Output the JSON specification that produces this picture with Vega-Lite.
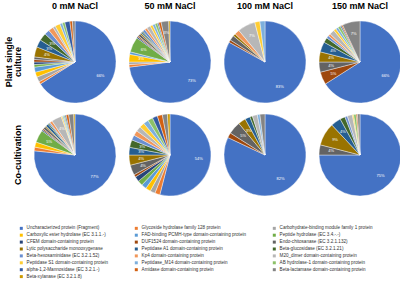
{
"$schema": "https://vega.github.io/schema/vega-lite/v6.json",
"background": "white",
"padding": {"left": 4, "top": 2, "right": 0, "bottom": 0},
"datasets": {
"proteins": [
{"n":1,"protein":"Uncharacterized protein (Fragment)"},
{"n":2,"protein":"Glycoside hydrolase family 128 protein"},
{"n":3,"protein":"Carbohydrate-binding module family 1 protein"},
{"n":4,"protein":"Carboxylic ester hydrolase (EC 3.1.1.-)"},
{"n":5,"protein":"FAD-binding PCMH-type domain-containing protein"},
{"n":6,"protein":"Peptide hydrolase (EC 3.4.-.-)"},
{"n":7,"protein":"CFEM domain-containing protein"},
{"n":8,"protein":"DUF1524 domain-containing protein"},
{"n":9,"protein":"Endo-chitosanase (EC 3.2.1.132)"},
{"n":10,"protein":"Lytic polysaccharide monooxygenase"},
{"n":11,"protein":"Peptidase A1 domain-containing protein"},
{"n":12,"protein":"Beta-glucosidase (EC 3.2.1.21)"},
{"n":13,"protein":"Beta-hexosaminidase (EC 3.2.1.52)"},
{"n":14,"protein":"Kp4 domain-containing protein"},
{"n":15,"protein":"M20_dimer domain-containing protein"},
{"n":16,"protein":"Peptidase S1 domain-containing protein"},
{"n":17,"protein":"Peptidase_M14 domain-containing protein"},
{"n":18,"protein":"AB hydrolase-1 domain-containing protein"},
{"n":19,"protein":"alpha-1,2-Mannosidase (EC 3.2.1.-)"},
{"n":20,"protein":"Amidase domain-containing protein"},
{"n":21,"protein":"Beta-lactamase domain-containing protein"},
{"n":22,"protein":"Beta-xylanase (EC 3.2.1.8)"}
]
},
"data": {"values": [
{"c":"Plant single culture","s":"0 mM NaCl","n":1,"v":66},
{"c":"Plant single culture","s":"0 mM NaCl","n":2,"v":1},
{"c":"Plant single culture","s":"0 mM NaCl","n":3,"v":2},
{"c":"Plant single culture","s":"0 mM NaCl","n":4,"v":2},
{"c":"Plant single culture","s":"0 mM NaCl","n":5,"v":2},
{"c":"Plant single culture","s":"0 mM NaCl","n":6,"v":1},
{"c":"Plant single culture","s":"0 mM NaCl","n":7,"v":1},
{"c":"Plant single culture","s":"0 mM NaCl","n":8,"v":1},
{"c":"Plant single culture","s":"0 mM NaCl","n":9,"v":1},
{"c":"Plant single culture","s":"0 mM NaCl","n":10,"v":4},
{"c":"Plant single culture","s":"0 mM NaCl","n":11,"v":3},
{"c":"Plant single culture","s":"0 mM NaCl","n":12,"v":3},
{"c":"Plant single culture","s":"0 mM NaCl","n":13,"v":2},
{"c":"Plant single culture","s":"0 mM NaCl","n":14,"v":2},
{"c":"Plant single culture","s":"0 mM NaCl","n":15,"v":1},
{"c":"Plant single culture","s":"0 mM NaCl","n":16,"v":2},
{"c":"Plant single culture","s":"0 mM NaCl","n":17,"v":1},
{"c":"Plant single culture","s":"0 mM NaCl","n":18,"v":1},
{"c":"Plant single culture","s":"0 mM NaCl","n":19,"v":2},
{"c":"Plant single culture","s":"0 mM NaCl","n":20,"v":1},
{"c":"Plant single culture","s":"0 mM NaCl","n":21,"v":1},
{"c":"Plant single culture","s":"50 mM NaCl","n":1,"v":73},
{"c":"Plant single culture","s":"50 mM NaCl","n":2,"v":1},
{"c":"Plant single culture","s":"50 mM NaCl","n":3,"v":1},
{"c":"Plant single culture","s":"50 mM NaCl","n":4,"v":3},
{"c":"Plant single culture","s":"50 mM NaCl","n":5,"v":1},
{"c":"Plant single culture","s":"50 mM NaCl","n":6,"v":6},
{"c":"Plant single culture","s":"50 mM NaCl","n":7,"v":0.5},
{"c":"Plant single culture","s":"50 mM NaCl","n":8,"v":0.5},
{"c":"Plant single culture","s":"50 mM NaCl","n":9,"v":1},
{"c":"Plant single culture","s":"50 mM NaCl","n":10,"v":0.5},
{"c":"Plant single culture","s":"50 mM NaCl","n":11,"v":0.5},
{"c":"Plant single culture","s":"50 mM NaCl","n":12,"v":0.5},
{"c":"Plant single culture","s":"50 mM NaCl","n":13,"v":1},
{"c":"Plant single culture","s":"50 mM NaCl","n":14,"v":1},
{"c":"Plant single culture","s":"50 mM NaCl","n":15,"v":1.5},
{"c":"Plant single culture","s":"50 mM NaCl","n":16,"v":1},
{"c":"Plant single culture","s":"50 mM NaCl","n":17,"v":1},
{"c":"Plant single culture","s":"50 mM NaCl","n":18,"v":1},
{"c":"Plant single culture","s":"50 mM NaCl","n":19,"v":0.5},
{"c":"Plant single culture","s":"50 mM NaCl","n":20,"v":1},
{"c":"Plant single culture","s":"50 mM NaCl","n":21,"v":3},
{"c":"Plant single culture","s":"50 mM NaCl","n":22,"v":0.5},
{"c":"Plant single culture","s":"100 mM NaCl","n":1,"v":83},
{"c":"Plant single culture","s":"100 mM NaCl","n":8,"v":1},
{"c":"Plant single culture","s":"100 mM NaCl","n":9,"v":2},
{"c":"Plant single culture","s":"100 mM NaCl","n":10,"v":1},
{"c":"Plant single culture","s":"100 mM NaCl","n":14,"v":2},
{"c":"Plant single culture","s":"100 mM NaCl","n":15,"v":7},
{"c":"Plant single culture","s":"100 mM NaCl","n":16,"v":2},
{"c":"Plant single culture","s":"100 mM NaCl","n":17,"v":2},
{"c":"Plant single culture","s":"150 mM NaCl","n":1,"v":66},
{"c":"Plant single culture","s":"150 mM NaCl","n":8,"v":5},
{"c":"Plant single culture","s":"150 mM NaCl","n":9,"v":4},
{"c":"Plant single culture","s":"150 mM NaCl","n":10,"v":4},
{"c":"Plant single culture","s":"150 mM NaCl","n":11,"v":4},
{"c":"Plant single culture","s":"150 mM NaCl","n":12,"v":2},
{"c":"Plant single culture","s":"150 mM NaCl","n":13,"v":1},
{"c":"Plant single culture","s":"150 mM NaCl","n":14,"v":1},
{"c":"Plant single culture","s":"150 mM NaCl","n":15,"v":2},
{"c":"Plant single culture","s":"150 mM NaCl","n":16,"v":1},
{"c":"Plant single culture","s":"150 mM NaCl","n":17,"v":1},
{"c":"Plant single culture","s":"150 mM NaCl","n":18,"v":1},
{"c":"Plant single culture","s":"150 mM NaCl","n":19,"v":0.5},
{"c":"Plant single culture","s":"150 mM NaCl","n":20,"v":0.5},
{"c":"Plant single culture","s":"150 mM NaCl","n":21,"v":7},
{"c":"Co-cultivation","s":"0 mM NaCl","n":1,"v":77},
{"c":"Co-cultivation","s":"0 mM NaCl","n":2,"v":1.5},
{"c":"Co-cultivation","s":"0 mM NaCl","n":4,"v":2},
{"c":"Co-cultivation","s":"0 mM NaCl","n":6,"v":5},
{"c":"Co-cultivation","s":"0 mM NaCl","n":7,"v":0.5},
{"c":"Co-cultivation","s":"0 mM NaCl","n":8,"v":0.5},
{"c":"Co-cultivation","s":"0 mM NaCl","n":9,"v":1},
{"c":"Co-cultivation","s":"0 mM NaCl","n":10,"v":0.5},
{"c":"Co-cultivation","s":"0 mM NaCl","n":11,"v":1},
{"c":"Co-cultivation","s":"0 mM NaCl","n":12,"v":0.5},
{"c":"Co-cultivation","s":"0 mM NaCl","n":13,"v":0.5},
{"c":"Co-cultivation","s":"0 mM NaCl","n":14,"v":1},
{"c":"Co-cultivation","s":"0 mM NaCl","n":15,"v":4},
{"c":"Co-cultivation","s":"0 mM NaCl","n":16,"v":0.5},
{"c":"Co-cultivation","s":"0 mM NaCl","n":17,"v":0.5},
{"c":"Co-cultivation","s":"0 mM NaCl","n":18,"v":0.5},
{"c":"Co-cultivation","s":"0 mM NaCl","n":19,"v":0.5},
{"c":"Co-cultivation","s":"0 mM NaCl","n":20,"v":1},
{"c":"Co-cultivation","s":"0 mM NaCl","n":21,"v":2},
{"c":"Co-cultivation","s":"0 mM NaCl","n":22,"v":0.5},
{"c":"Co-cultivation","s":"50 mM NaCl","n":1,"v":54},
{"c":"Co-cultivation","s":"50 mM NaCl","n":2,"v":2},
{"c":"Co-cultivation","s":"50 mM NaCl","n":3,"v":2},
{"c":"Co-cultivation","s":"50 mM NaCl","n":4,"v":2},
{"c":"Co-cultivation","s":"50 mM NaCl","n":5,"v":2},
{"c":"Co-cultivation","s":"50 mM NaCl","n":6,"v":2},
{"c":"Co-cultivation","s":"50 mM NaCl","n":7,"v":2},
{"c":"Co-cultivation","s":"50 mM NaCl","n":8,"v":1},
{"c":"Co-cultivation","s":"50 mM NaCl","n":9,"v":4},
{"c":"Co-cultivation","s":"50 mM NaCl","n":10,"v":4},
{"c":"Co-cultivation","s":"50 mM NaCl","n":11,"v":3},
{"c":"Co-cultivation","s":"50 mM NaCl","n":12,"v":3},
{"c":"Co-cultivation","s":"50 mM NaCl","n":13,"v":2},
{"c":"Co-cultivation","s":"50 mM NaCl","n":14,"v":2},
{"c":"Co-cultivation","s":"50 mM NaCl","n":15,"v":2},
{"c":"Co-cultivation","s":"50 mM NaCl","n":16,"v":2},
{"c":"Co-cultivation","s":"50 mM NaCl","n":17,"v":2},
{"c":"Co-cultivation","s":"50 mM NaCl","n":18,"v":2},
{"c":"Co-cultivation","s":"50 mM NaCl","n":19,"v":2},
{"c":"Co-cultivation","s":"50 mM NaCl","n":20,"v":2},
{"c":"Co-cultivation","s":"50 mM NaCl","n":21,"v":2},
{"c":"Co-cultivation","s":"50 mM NaCl","n":22,"v":1},
{"c":"Co-cultivation","s":"100 mM NaCl","n":1,"v":82},
{"c":"Co-cultivation","s":"100 mM NaCl","n":8,"v":2},
{"c":"Co-cultivation","s":"100 mM NaCl","n":9,"v":5},
{"c":"Co-cultivation","s":"100 mM NaCl","n":10,"v":3},
{"c":"Co-cultivation","s":"100 mM NaCl","n":11,"v":2},
{"c":"Co-cultivation","s":"100 mM NaCl","n":12,"v":1},
{"c":"Co-cultivation","s":"100 mM NaCl","n":15,"v":2},
{"c":"Co-cultivation","s":"100 mM NaCl","n":17,"v":1},
{"c":"Co-cultivation","s":"100 mM NaCl","n":21,"v":2},
{"c":"Co-cultivation","s":"150 mM NaCl","n":1,"v":75},
{"c":"Co-cultivation","s":"150 mM NaCl","n":9,"v":4},
{"c":"Co-cultivation","s":"150 mM NaCl","n":10,"v":9},
{"c":"Co-cultivation","s":"150 mM NaCl","n":11,"v":4},
{"c":"Co-cultivation","s":"150 mM NaCl","n":12,"v":2},
{"c":"Co-cultivation","s":"150 mM NaCl","n":13,"v":1},
{"c":"Co-cultivation","s":"150 mM NaCl","n":15,"v":2},
{"c":"Co-cultivation","s":"150 mM NaCl","n":16,"v":0.5},
{"c":"Co-cultivation","s":"150 mM NaCl","n":18,"v":1},
{"c":"Co-cultivation","s":"150 mM NaCl","n":20,"v":0.5},
{"c":"Co-cultivation","s":"150 mM NaCl","n":21,"v":1}
]},
"transform": [
{"lookup": "n", "from": {"data": {"name": "proteins"}, "key": "n", "fields": ["protein"]}}
],
"facet": {
"row": {"field": "c", "type": "nominal", "sort": ["Plant single culture", "Co-cultivation"],
"header": {"title": null, "labelAngle": -90, "labelOrient": "left", "labelFont": "Liberation Sans", "labelFontSize": 9, "labelFontWeight": "bold", "labelColor": "black", "labelPadding": 6, "labelLineHeight": 9,
"labelExpr": "datum.value == 'Plant single culture' ? ['Plant single', 'culture'] : datum.value"}},
"column": {"field": "s", "type": "nominal", "sort": ["0 mM NaCl", "50 mM NaCl", "100 mM NaCl", "150 mM NaCl"],
"header": {"title": null, "labelFont": "Liberation Sans", "labelFontSize": 9, "labelFontWeight": "bold", "labelColor": "black", "labelPadding": 9}}
},
"spacing": {"row": 9, "column": 11},
"spec": {
"width": 82, "height": 82,
"layer": [
{"mark": {"type": "arc", "stroke": "white", "strokeWidth": 0.4},
"encoding": {
"theta": {"field": "v", "type": "quantitative", "stack": true},
"order": {"field": "n", "type": "quantitative"},
"color": {"field": "protein", "type": "nominal",
"scale": {"domain": ["Uncharacterized protein (Fragment)","Glycoside hydrolase family 128 protein","Carbohydrate-binding module family 1 protein","Carboxylic ester hydrolase (EC 3.1.1.-)","FAD-binding PCMH-type domain-containing protein","Peptide hydrolase (EC 3.4.-.-)","CFEM domain-containing protein","DUF1524 domain-containing protein","Endo-chitosanase (EC 3.2.1.132)","Lytic polysaccharide monooxygenase","Peptidase A1 domain-containing protein","Beta-glucosidase (EC 3.2.1.21)","Beta-hexosaminidase (EC 3.2.1.52)","Kp4 domain-containing protein","M20_dimer domain-containing protein","Peptidase S1 domain-containing protein","Peptidase_M14 domain-containing protein","AB hydrolase-1 domain-containing protein","alpha-1,2-Mannosidase (EC 3.2.1.-)","Amidase domain-containing protein","Beta-lactamase domain-containing protein","Beta-xylanase (EC 3.2.1.8)"],
"range": ["#4472C4","#ED7D31","#A5A5A5","#FFC000","#5B9BD5","#70AD47","#264478","#9E480E","#636363","#997300","#255E91","#43682B","#698ED0","#F1975A","#B7B7B7","#FFCD33","#7CAFDD","#8CC168","#335AA1","#D26012","#848484","#CC9A00"]},
"legend": {"title": null, "orient": "none", "direction": "horizontal", "legendX": -15, "legendY": 205, "columns": 3, "columnPadding": 25, "rowPadding": 1.9, "symbolType": "square", "symbolSize": 9, "symbolStrokeWidth": 0, "labelFontSize": 4.6, "labelFont": "Liberation Sans", "labelColor": "#333333", "labelLimit": 200, "labelOffset": 3}}
}},
{"mark": {"type": "text", "radius": 29, "fontSize": 4, "fill": "white", "font": "Liberation Sans", "text": {"expr": "datum.v >= 3 ? datum.v + '%' : ''"}},
"encoding": {
"theta": {"field": "v", "type": "quantitative", "stack": true},
"order": {"field": "n", "type": "quantitative"},
"detail": {"field": "protein", "type": "nominal"}
}}
]
},
"config": {"view": {"stroke": null}}
}
